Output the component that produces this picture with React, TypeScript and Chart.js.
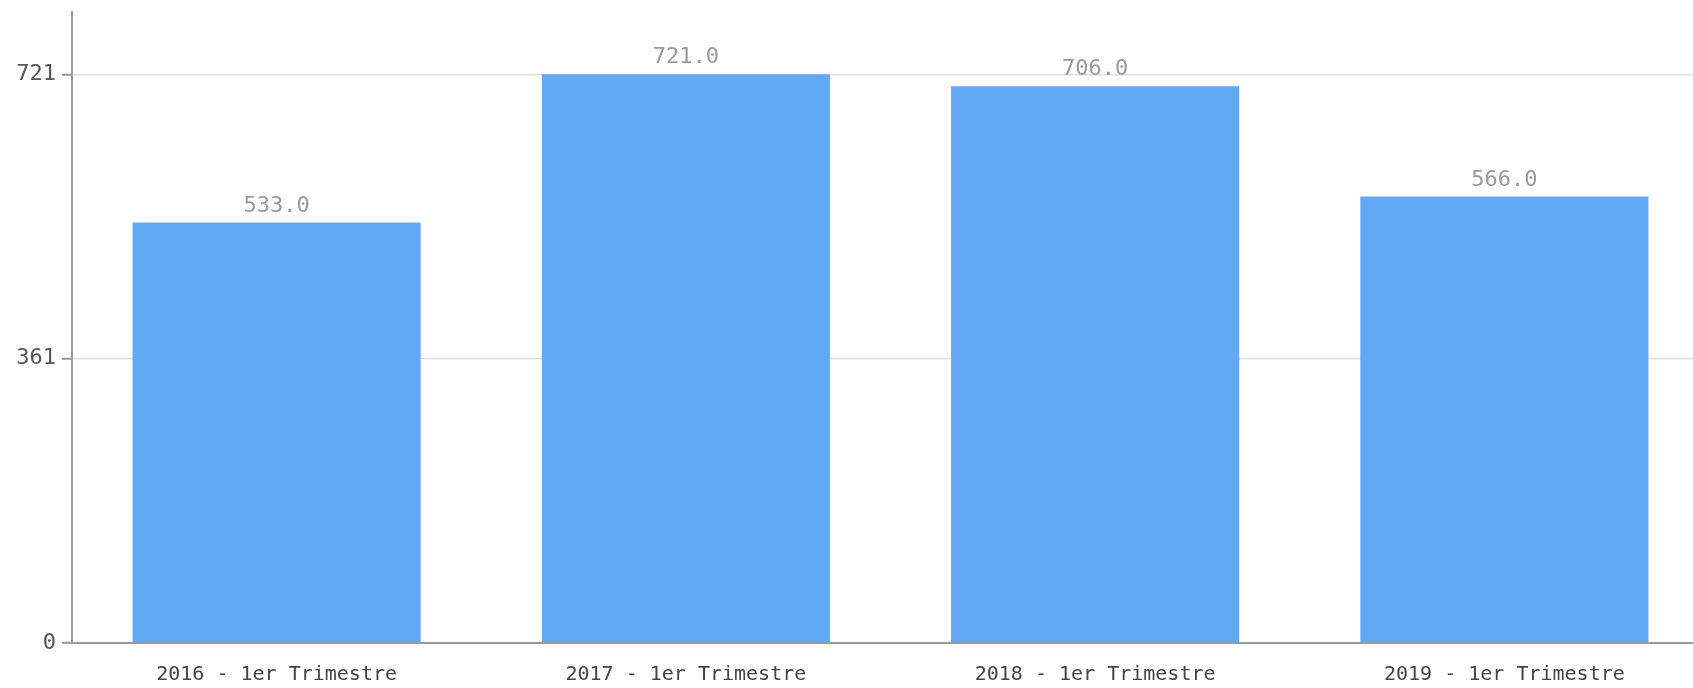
import React, { useEffect, useRef } from "react";
import { Chart, registerables } from "chart.js";

Chart.register(...registerables);

const categories = [
  "2016 - 1er Trimestre",
  "2017 - 1er Trimestre",
  "2018 - 1er Trimestre",
  "2019 - 1er Trimestre",
];
const values = [533, 721, 706, 566];
const yTickValues = [0, 361, 721];
const yMax = 800;

const FONT = "'DejaVu Sans Mono', monospace";

const valueLabels = {
  id: "valueLabels",
  afterDatasetsDraw(chart: any) {
    const ctx = chart.ctx;
    const meta = chart.getDatasetMeta(0);
    ctx.save();
    ctx.font = `22px ${FONT}`;
    ctx.fillStyle = "#9a9a9a";
    ctx.textAlign = "center";
    ctx.textBaseline = "alphabetic";
    meta.data.forEach((bar: any, i: number) => {
      ctx.fillText(values[i].toFixed(1), bar.x, bar.y - 11);
    });
    ctx.restore();
  },
};

export default function App() {
  const ref = useRef<HTMLCanvasElement | null>(null);
  useEffect(() => {
    if (!ref.current) return;
    const chart = new Chart(ref.current, {
      type: "bar",
      data: {
        labels: categories,
        datasets: [
          {
            data: values,
            backgroundColor: "#62a8f4",
            borderWidth: 0,
            barPercentage: 0.704,
            categoryPercentage: 1,
          },
        ],
      },
      options: {
        responsive: false,
        animation: false,
        devicePixelRatio: 1,
        layout: { padding: { top: 12, left: 0, right: 0, bottom: 0 } },
        plugins: {
          legend: { display: false },
          tooltip: { enabled: false },
        },
        scales: {
          x: {
            grid: { display: false, drawTicks: false },
            border: { display: true, color: "#999", width: 2 },
            ticks: {
              padding: 20,
              color: "#444",
              font: { family: FONT, size: 20 },
              maxRotation: 0,
              autoSkip: false,
            },
            afterFit(scale: any) {
              scale.height = 45;
              scale.paddingLeft = 0;
              scale.paddingRight = 0;
            },
          },
          y: {
            min: 0,
            max: yMax,
            afterBuildTicks(scale: any) {
              scale.ticks = yTickValues.map((v) => ({ value: v }));
            },
            grid: {
              color: "#e2e2e2",
              lineWidth: 1.5,
              tickColor: "#999",
              tickLength: 10,
              tickWidth: 2,
            },
            border: { display: true, color: "#999", width: 2 },
            ticks: {
              padding: 6,
              color: "#555",
              font: { family: FONT, size: 22 },
            },
            afterFit(scale: any) {
              scale.width = 72;
              scale.paddingTop = 0;
              scale.paddingBottom = 0;
            },
          },
        },
      },
      plugins: [valueLabels],
    });
    return () => chart.destroy();
  }, []);
  return (
    <div style={{ position: "fixed", left: 0, top: 0, width: 1693, height: 688, overflow: "hidden", background: "#fff" }}>
      <canvas ref={ref} width={1709} height={688} style={{ display: "block", width: 1709, height: 688 }} />
    </div>
  );
}
